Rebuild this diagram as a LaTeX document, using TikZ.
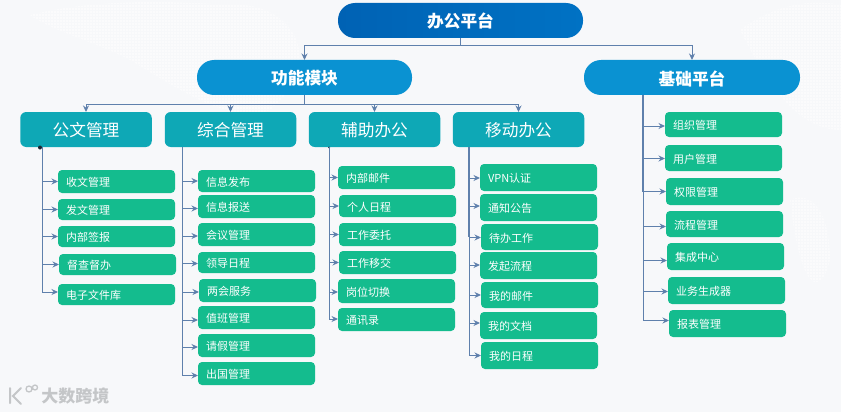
\documentclass[tikz,border=0pt]{standalone}
\usepackage{fontspec}
\setmainfont{Noto Sans CJK SC}
\usetikzlibrary{arrows.meta,calc}
\definecolor{bgc}{HTML}{F7F8FA}
\definecolor{linec}{HTML}{5F80AC}
\definecolor{rootc}{HTML}{0062B4}
\definecolor{rootd}{HTML}{0072C4}
\definecolor{onec}{HTML}{0A92D2}
\definecolor{twoc}{HTML}{0EA8B6}
\definecolor{leafc}{HTML}{14BC8E}
\definecolor{wmc}{HTML}{C4C6C8}
\tikzset{
  x=1pt,y=-1pt,
  pill/.style={rounded corners=17pt,inner sep=0pt,outer sep=0pt,text=white,font=\fontsize{16.7pt}{18pt}\selectfont\bfseries,minimum height=35pt},
  twobox/.style={fill=twoc,rounded corners=6pt,inner sep=0pt,outer sep=0pt,text=white,font=\fontsize{16.7pt}{18pt}\selectfont,minimum height=35pt,minimum width=131.5pt},
  leafbox/.style={fill=leafc,rounded corners=4pt,inner xsep=8pt,inner ysep=0pt,outer sep=0pt,text width=101pt,text=white,font=\fontsize{11pt}{13pt}\selectfont,anchor=north west},
  conn/.style={draw=linec,line width=1pt,-{Stealth[length=6.5pt,width=6pt]}},
  plain/.style={draw=linec,line width=1.1pt},
  thicktrunk/.style={draw=linec,line width=1.7pt},
  mapdots/.style={draw=white,opacity=0.55,line width=1.5pt,dash pattern=on 1.5pt off 1.5pt},
}
\newcommand{\lowered}[1]{\raisebox{0pt}[\dimexpr\height+2pt\relax][\depth]{#1}}
\begin{document}
\begin{tikzpicture}
\useasboundingbox (0,0) rectangle (841,412);
\fill[bgc] (0,0) rectangle (841,412);
% faint dotted map in the background
\begin{scope}
\clip (30,15) .. controls (90,0) and (160,0) .. (230,5) .. controls (290,0) and (330,60) .. (270,110) .. controls (230,125) and (180,90) .. (130,60) .. controls (90,40) and (50,30) .. (30,15)
 (740,30) .. controls (780,0) and (820,0) .. (841,5) -- (841,130) .. controls (800,130) and (770,90) .. (740,30)
 (790,200) .. controls (810,190) and (830,210) .. (830,260) .. controls (820,300) and (800,290) .. (790,200);
\foreach \yy in {0,3,...,300} \draw[mapdots] (0,\yy) -- (841,\yy);
\end{scope}
% top levels
\node[pill,shade,left color=rootc,right color=rootd,minimum width=245pt] (root) at (460.5,20.5) {\lowered{办公平台}};
\node[pill,fill=onec,minimum width=215pt] (func) at (304.5,77.5) {\lowered{功能模块}};
\node[pill,fill=onec,minimum width=216pt] (base) at (692,77.5) {\lowered{基础平台}};
\node[twobox] (doc) at (86,129.5) {\lowered{公文管理}};
\node[twobox] (gen) at (230.5,129.5) {\lowered{综合管理}};
\node[twobox] (aux) at (374.5,129.5) {\lowered{辅助办公}};
\node[twobox] (mob) at (518.5,129.5) {\lowered{移动办公}};
% tree connectors
\coordinate (rootbus) at (460.5,46);
\coordinate (funcbus) at (304.5,104);
\draw[plain] (root.south) -- (rootbus);
\draw[conn] (rootbus) -| (func.north);
\draw[conn] (rootbus) -| (base.north);
\draw[plain] (func.south) -- (funcbus);
\foreach \t in {doc,gen,aux,mob} \draw[conn] (funcbus) -| (\t.north);
% trunk tops
\coordinate (tdoc) at (42.5,147);
\coordinate (tgen) at (182.5,147);
\coordinate (taux) at (329.5,147);
\coordinate (tmob) at (469,147);
\coordinate (tbase) at (643,95);
\fill[black!70!linec] (40,147.5) circle (2pt);
\fill[black!70!linec] (329,147.5) circle (1pt);
% leaves: name / text / x / top / bottom / trunk / arrow offset
\foreach \n/\txt/\x/\ya/\yb/\tr/\dy in {
 a1/收文管理/58/170/193/tdoc/0,
 a2/发文管理/58/199/220/tdoc/0,
 a3/内部签报/58/226/247/tdoc/0,
 a4/督查督办/59/254/275/tdoc/0,
 a5/电子文件库/58/284/305/tdoc/-2.5,
 b1/信息发布/198/170/192/tgen/0,
 b2/信息报送/198/195/218/tgen/2,
 b3/会议管理/198/223/246/tgen/1.5,
 b4/领导日程/198/252/273/tgen/1,
 b5/两会服务/199/279/302/tgen/1.5,
 b6/值班管理/198/306/329/tgen/2.5,
 b7/请假管理/198/334/357/tgen/1.5,
 b8/出国管理/198/362/385/tgen/2,
 c1/内部邮件/338/166/189/taux/0,
 c2/个人日程/339/195/217/taux/0,
 c3/工作委托/339/223/246/taux/0,
 c4/工作移交/339/251/274/taux/0,
 c5/岗位切换/338/279/303/taux/1,
 c6/通讯录/338/308/331/taux/-0.5,
 d1/VPN认证/480/164/191/tmob/0.5,
 d2/通知公告/480/194/221/tmob/-1.5,
 d3/待办工作/481/224/250/tmob/0.5,
 d4/发起流程/480/252/279/tmob/-0.5,
 d5/我的邮件/481/282/308/tmob/0,
 d6/我的文档/480/312/339/tmob/-2.5,
 d7/我的日程/481/342/369/tmob/0,
 e1/组织管理/665/112/137/tbase/1.5,
 e2/用户管理/665/145/171/tbase/0.5,
 e3/权限管理/666/178/205/tbase/0,
 e4/流程管理/666/211/237/tbase/2.5,
 e5/集成中心/667/243/270/tbase/4,
 e6/业务生成器/668/277/304/tbase/1,
 e7/报表管理/669/310/337/tbase/-3}
{
 \pgfmathsetmacro\hh{\yb-\ya}
 \node[leafbox,minimum height=\hh pt] (\n) at (\x,\ya) {\lowered{\txt}};
 \draw[conn] (\tr) |- ($(\n.west)+(0,\dy)$);
}
\draw[thicktrunk] (tmob) -- (tmob |- d3.west);
\draw[thicktrunk] (tbase) -- (tbase |- e3.west);
% watermark
\node[text=wmc,font=\fontsize{17pt}{19pt}\selectfont\bfseries,inner sep=0pt,outer sep=0pt] (wm) at (75.5,396) {大数跨境};
\draw[wmc,line width=2pt,line cap=round] (10,388) -- (10,403) (21,388) -- (13,396) -- (21,404);
\draw[wmc,line width=1.3pt] (29,389) circle (3pt) (35,387.5) circle (2.5pt);
\end{tikzpicture}
\end{document}
